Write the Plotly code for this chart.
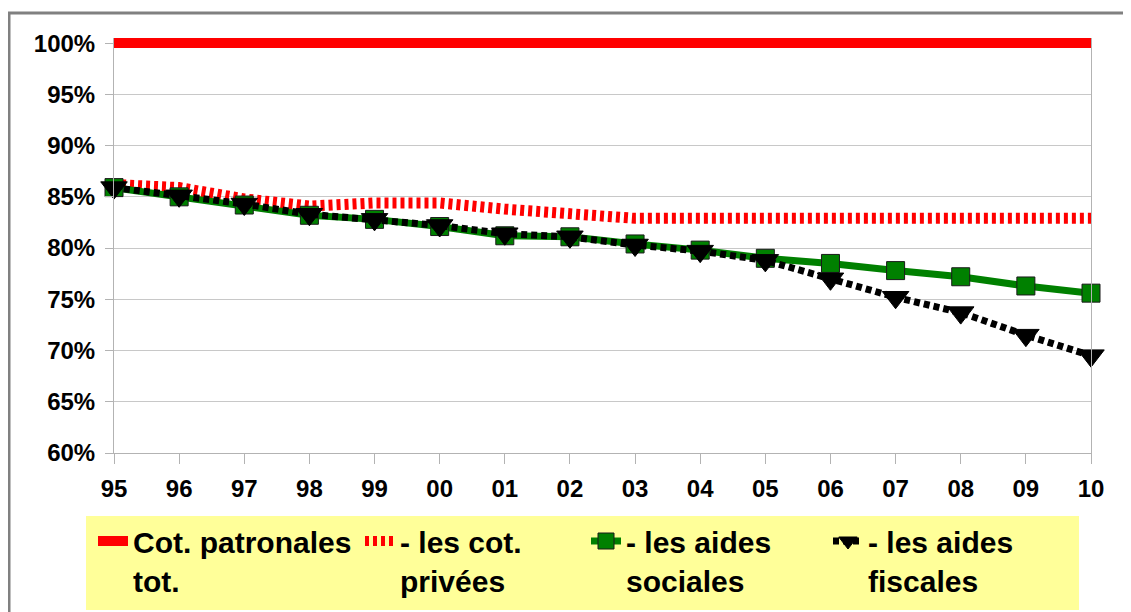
import plotly.graph_objects as go

years = ['95', '96', '97', '98', '99', '00', '01', '02', '03', '04', '05', '06', '07', '08', '09', '10']
total = [100, 100, 100, 100, 100, 100, 100, 100, 100, 100, 100, 100, 100, 100, 100, 100]
privees = [86.2, 85.9, 84.8, 84.1, 84.4, 84.4, 83.8, 83.4, 82.9, 82.9, 82.9, 83.1, 82.9, 82.9, 82.9, 82.9]
sociales = [85.9, 85.0, 84.2, 83.2, 82.8, 82.1, 81.2, 81.1, 80.4, 79.8, 79.0, 78.5, 77.8, 77.2, 76.3, 75.6]
fiscales = [85.9, 85.1, 84.3, 83.3, 82.8, 82.2, 81.4, 81.1, 80.3, 79.7, 78.8, 77.0, 75.2, 73.7, 71.5, 69.5]
y_ticks = [60, 65, 70, 75, 80, 85, 90, 95, 100]
y_labels = [f"{v}%" for v in y_ticks]

names = ["Cot. patronales<br>tot.", "- les cot.<br>privées", "- les aides<br>sociales", "- les aides<br>fiscales"]

FONT = "Liberation Sans, Arial, sans-serif"

fig = go.Figure()
fig.add_trace(go.Scatter(x=years, y=total, mode="lines", name=names[0],
                         line=dict(color="#FF0000", width=10), legend="legend"))
fig.add_trace(go.Scatter(x=years, y=privees, mode="lines", name=names[1],
                         line=dict(color="#FF0000", width=11, dash="4px,4px"), legend="legend2"))
fig.add_trace(go.Scatter(x=years, y=sociales, mode="lines+markers", name=names[2],
                         line=dict(color="#008000", width=7),
                         marker=dict(symbol="square", size=18, color="#008000",
                                     line=dict(color="#1a1a1a", width=1)),
                         cliponaxis=False, legend="legend3"))
fig.add_trace(go.Scatter(x=years, y=fiscales, mode="lines+markers", name=names[3],
                         line=dict(color="#000000", width=7, dash="6px,4px"),
                         marker=dict(symbol="triangle-down", size=23, color="#000000",
                                     line=dict(color="#000000", width=1)),
                         cliponaxis=False, legend="legend4"))

# page coordinates of the reference (the page body adds an 8px offset)
def px_x(p):
    return (p - 114) / 977.0

def px_y(p):
    return (453 - p) / 415.0

leg_font = dict(family=FONT, size=30, color="#000000", weight=700)
legend_common = dict(orientation="v", bgcolor="rgba(0,0,0,0)", borderwidth=0,
                     font=leg_font, xanchor="left", yanchor="top", valign="top",
                     y=px_y(515))

layout_legends = {}
for i, key in enumerate(["legend", "legend2", "legend3", "legend4"]):
    lx = [93, 360, 586, 828][i]
    layout_legends[key] = dict(legend_common, x=px_x(lx))

fig.update_layout(
    width=1123, height=640,
    margin=dict(l=106, r=40, t=30, b=195),
    paper_bgcolor="white", plot_bgcolor="white",
    showlegend=True,
    **layout_legends,
    xaxis=dict(type="category", range=[0, 15], showgrid=False,
               showline=True, linecolor="#b3b3b3", linewidth=1,
               ticks="outside", ticklen=10, tickcolor="#b3b3b3",
               tickfont=dict(family=FONT, size=24, color="#000000", weight=700),
               ticklabelstandoff=4, zeroline=False, fixedrange=True),
    yaxis=dict(range=[60, 100.5], tickvals=y_ticks, ticktext=y_labels,
               showgrid=True, gridcolor="#c8c8c8", gridwidth=1,
               showline=True, linecolor="#b3b3b3", linewidth=1, mirror=True,
               ticks="outside", ticklen=8, tickcolor="#b3b3b3",
               tickfont=dict(family=FONT, size=24, color="#000000", weight=700),
               ticklabelstandoff=5, zeroline=False, fixedrange=True),
    shapes=[
        dict(type="rect", xref="paper", yref="paper",
             x0=px_x(86), x1=px_x(1079), y0=px_y(610), y1=px_y(516),
             fillcolor="#FFFF99", line=dict(width=0), layer="below"),
        dict(type="rect", xref="paper", yref="paper",
             x0=px_x(9), x1=px_x(1145), y0=px_y(660), y1=px_y(13),
             fillcolor="rgba(0,0,0,0)", line=dict(color="#808080", width=3), layer="above"),
    ],
)

fig.write_html("out.html")
